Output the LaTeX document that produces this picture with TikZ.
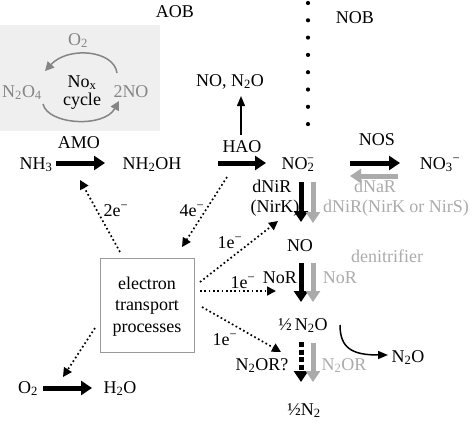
\documentclass[tikz,border=0pt]{standalone}
\usepackage{fontspec}
\setmainfont{Liberation Serif}
\usetikzlibrary{arrows.meta}
\definecolor{boxfill}{HTML}{EFEFEF}
\definecolor{cyclegray}{HTML}{858585}
\definecolor{lgray}{HTML}{ABABAB}
\definecolor{framegray}{HTML}{9A9A9A}
\newcommand\sbs[1]{\textsubscript{#1}}
\newcommand\minusup{\textsuperscript{−}}
\tikzset{
  txt/.style={anchor=base, inner sep=0pt},
  fat/.style={line width=5pt, -{Triangle[length=11pt,width=14pt]}},
  fatgray/.style={fat, draw=lgray},
  dotarrow/.style={line width=1.7pt, dash pattern=on 1.7pt off 2.6pt, -{Triangle[length=9pt,width=9pt]}},
  thinarrow/.style={line width=1.3pt, -{Triangle[length=10pt,width=8pt]}},
  cyclearrow/.style={line width=1.5pt, draw=cyclegray, -{Triangle[length=9pt,width=9pt]}},
}
\begin{document}
\begin{tikzpicture}[x=1pt,y=-1pt, font=\fontsize{18}{20}\selectfont]
\path[use as bounding box] (0,0) rectangle (472,424);

% NOx cycle box
\fill[boxfill] (0,25) rectangle (160,131);
\node[txt, text=cyclegray] (o2c) at (78,45) {O\sbs{2}};
\node[txt, text=cyclegray] (n2o4) at (22,97) {N\sbs{2}O\sbs{4}};
\node[txt, text=cyclegray] (twono) at (131,97) {2NO};
\node[txt] (nox) at (82,87) {No\sbs{x}};
\node[txt] (cyc) at (82,105) {cycle};
\coordinate (ca1) at (117,73);
\coordinate (ca2) at (45,71);
\coordinate (cb1) at (43,104);
\coordinate (cb2) at (119,101);
\draw[cyclearrow] (ca1) .. controls (114,50) and (68,46) .. (ca2);
\draw[cyclearrow] (cb1) .. controls (48,125) and (104,128) .. (cb2);

% headers
\node[txt] (aob) at (175,17) {AOB};
\node[txt] (nob) at (355,23) {NOB};
\foreach \i in {0,...,7} {
  \fill (308,{3+17.3*\i}) circle (2.1pt);
}

% top row
\node[txt] (nh3) at (36,169) {NH\sbs{3}};
\node[txt] (nh2oh) at (152,169) {NH\sbs{2}OH};
\node[txt] (no2) at (298,169) {NO\sbs{2}\llap{\textsuperscript{−}}};
\node[txt] (no3) at (440,169) {NO\sbs{3}\minusup};
\node[txt] (amo) at (79,148) {AMO};
\node[txt] (hao) at (242,152) {HAO};
\node[txt] (nos) at (377,145) {NOS};
\node[txt, text=lgray] (dnar) at (375,192) {dNaR};
\node[txt] (non2o) at (230,86) {NO, N\sbs{2}O};

\coordinate (a1s) at (56,163); \coordinate (a1e) at (105,163);
\coordinate (a2s) at (218,163); \coordinate (a2e) at (266,163);
\coordinate (a3s) at (350,163); \coordinate (a3e) at (400,163);
\coordinate (a4s) at (398,176); \coordinate (a4e) at (350,176);
\draw[fat] (a1s) -- (a1e);
\draw[fat] (a2s) -- (a2e);
\draw[fat] (a3s) -- (a3e);
\draw[fatgray] (a4s) -- (a4e);
\coordinate (hs) at (241,135); \coordinate (he) at (241,96);
\draw[thinarrow] (hs) -- (he);

% denitrification column
\node[txt] (dnir) at (272,192) {dNiR};
\node[txt] (nirk) at (275,212) {(NirK)};
\node[txt, text=lgray] (dnirg) at (396,212) {dNiR(NirK or NirS)};
\node[txt] (no) at (300,251) {NO};
\node[txt, text=lgray] (denit) at (387,262) {denitrifier};
\node[txt] (nor) at (280,283) {NoR};
\node[txt, text=lgray] (norg) at (340,283) {NoR};
\node[txt] (hn2o) at (303,330) {½\,N\sbs{2}O};
\node[txt] (n2orq) at (262,370) {N\sbs{2}OR?};
\node[txt, text=lgray] (n2org) at (344,370) {N\sbs{2}OR};
\node[txt] (hn2) at (304,415) {½N\sbs{2}};
\node[txt] (n2oout) at (408,362) {N\sbs{2}O};

\coordinate (v1s) at (301,182); \coordinate (v1e) at (301,222);
\coordinate (g1s) at (313,182); \coordinate (g1e) at (313,223);
\coordinate (v2s) at (301,263); \coordinate (v2e) at (301,302);
\coordinate (g2s) at (313,263); \coordinate (g2e) at (313,302);
\coordinate (v3s) at (301,342); \coordinate (v3e) at (301,382);
\coordinate (g3s) at (313,343); \coordinate (g3e) at (313,382);
\draw[fat] (v1s) -- (v1e);
\draw[fatgray] (g1s) -- (g1e);
\draw[fat] (v2s) -- (v2e);
\draw[fatgray] (g2s) -- (g2e);
\draw[line width=5pt, dash pattern=on 5pt off 2.5pt, -{Triangle[length=11pt,width=14pt]}] (v3s) -- (v3e);
\draw[fatgray] (g3s) -- (g3e);
\coordinate (cs) at (340,325); \coordinate (ce) at (388,355);
\draw[line width=1.5pt, -{Triangle[length=10pt,width=8pt]}] (cs) .. controls (340,348) and (352,355) .. (ce);

% electron transport box
\draw[framegray, line width=1pt] (100,258) rectangle (194,352);
\node[txt] (et1) at (147,289) {electron};
\node[txt] (et2) at (147,310) {transport};
\node[txt] (et3) at (147,332) {processes};

% dotted electron arrows
\coordinate (d1s) at (120,252); \coordinate (d1e) at (80,180);
\coordinate (d2s) at (227,177); \coordinate (d2e) at (182,247);
\coordinate (d3s) at (200,282); \coordinate (d3e) at (278,221);
\coordinate (d4s) at (200,291); \coordinate (d4e) at (276,291);
\coordinate (d5s) at (202,307); \coordinate (d5e) at (281,352);
\coordinate (d6s) at (95,328); \coordinate (d6e) at (63,377);
\draw[dotarrow] (d1s) -- (d1e);
\draw[dotarrow] (d2s) -- (d2e);
\draw[dotarrow] (d3s) -- (d3e);
\draw[dotarrow] (d4s) -- (d4e);
\draw[dotarrow] (d5s) -- (d5e);
\draw[dotarrow] (d6s) -- (d6e);
\node[txt] (e2) at (116,216) {2e\minusup};
\node[txt] (e4) at (192,216) {4e\minusup};
\node[txt] (e1a) at (230,248) {1e\minusup};
\node[txt] (e1b) at (243,288) {1e\minusup};
\node[txt] (e1c) at (225,345) {1e\minusup};

% oxygen
\node[txt] (o2) at (28,393) {O\sbs{2}};
\node[txt] (h2o) at (120,393) {H\sbs{2}O};
\coordinate (os) at (43,388); \coordinate (oe) at (92,388);
\draw[fat] (os) -- (oe);
\end{tikzpicture}
\end{document}
